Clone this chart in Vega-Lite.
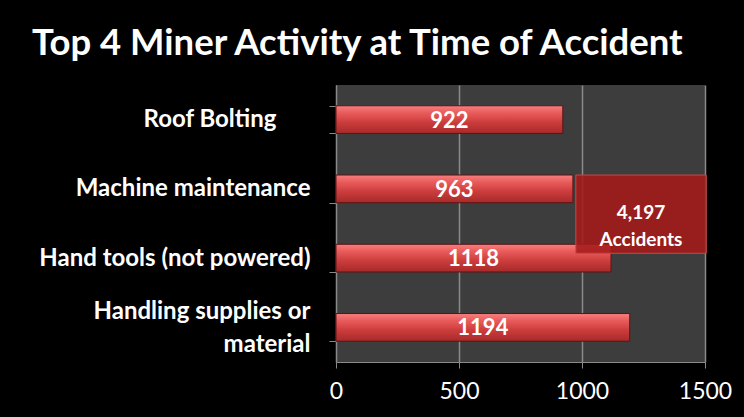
{
  "$schema": "https://vega.github.io/schema/vega-lite/v6.json",
  "width": 369,
  "height": 277,
  "autosize": {"type": "none"},
  "padding": {"left": 336, "top": 85, "right": 39, "bottom": 55},
  "background": "#000000",
  "title": {
    "text": "Top 4 Miner Activity at Time of Accident",
    "font": "Lato",
    "fontSize": 36.5,
    "fontWeight": "bold",
    "color": "#ffffff",
    "anchor": "start",
    "frame": "group",
    "dx": -304,
    "offset": 11
  },
  "config": {
    "view": {"fill": "#3d3d3d", "stroke": null}
  },
  "data": {
    "values": [
      {"activity": "Roof Bolting", "accidents": 922},
      {"activity": "Machine maintenance", "accidents": 963},
      {"activity": "Hand tools (not powered)", "accidents": 1118},
      {"activity": "Handling supplies or material", "accidents": 1194}
    ]
  },
  "layer": [
    {
      "mark": {
        "type": "bar",
        "color": {
          "gradient": "linear",
          "x1": 0, "y1": 0, "x2": 0, "y2": 1,
          "stops": [
            {"offset": 0, "color": "#f77f7f"},
            {"offset": 0.25, "color": "#ea5c5c"},
            {"offset": 0.6, "color": "#cc3c3c"},
            {"offset": 1, "color": "#a62a2a"}
          ]
        },
        "stroke": "#5c1414",
        "strokeWidth": 1
      },
      "encoding": {
        "y": {
          "field": "activity",
          "type": "nominal",
          "sort": null,
          "scale": {"paddingInner": 0.6, "paddingOuter": 0.3},
          "axis": {
            "title": null,
            "tickBand": "extent",
            "labelFont": "Lato",
            "labelFontWeight": "bold",
            "labelFontSize": 24,
            "labelColor": "#ffffff",
            "labelPadding": {"condition": {"test": "datum.value == 'Roof Bolting'", "value": 53}, "value": 19},
            "labelOffset": {"condition": {"test": "datum.value == 'Handling supplies or material'", "value": -16}, "value": 0},
            "labelLimit": 400,
            "labelExpr": "datum.value == 'Handling supplies or material' ? ['Handling supplies or', 'material'] : datum.value",
            "labelLineHeight": 33,
            "domainColor": "#8a8a8a",
            "tickColor": "#8a8a8a",
            "tickSize": 7,
            "grid": false
          }
        },
        "x": {
          "field": "accidents",
          "type": "quantitative",
          "scale": {"domain": [0, 1500]},
          "axis": {
            "title": null,
            "values": [0, 500, 1000, 1500],
            "format": "d",
            "grid": true,
            "gridColor": "#8a8a8a",
            "gridWidth": 1.5,
            "domainColor": "#8a8a8a",
            "tickColor": "#8a8a8a",
            "tickSize": 6,
            "labelFont": "Lato",
            "labelFontSize": 23,
            "labelColor": "#ffffff",
            "labelPadding": 12,
            "labelFlush": false
          }
        }
      }
    },
    {
      "mark": {
        "type": "text",
        "font": "Lato",
        "fontWeight": "bold",
        "fontSize": 22,
        "color": "#ffffff",
        "align": "center",
        "baseline": "middle",
        "dy": 1
      },
      "encoding": {
        "y": {"field": "activity", "type": "nominal", "sort": null, "scale": {"paddingInner": 0.6, "paddingOuter": 0.3}, "axis": null},
        "x": {"field": "accidents", "type": "quantitative", "scale": {"domain": [0, 3000]}, "axis": null},
        "text": {"field": "accidents", "type": "quantitative", "format": "d"}
      }
    },
    {
      "data": {"values": [{"note": "4,197\nAccidents"}]},
      "mark": {
        "type": "rect",
        "fill": "#a51a1a",
        "fillOpacity": 0.88,
        "stroke": "#c84a4a",
        "strokeWidth": 1
      },
      "encoding": {
        "x": {"datum": 975, "type": "quantitative", "scale": {"domain": [0, 1500]}, "axis": null},
        "x2": {"datum": 1505},
        "y": {"datum": 2.7, "type": "quantitative", "scale": {"domain": [0, 4]}, "axis": null},
        "y2": {"datum": 1.57}
      }
    },
    {
      "data": {"values": [{"note": "4,197\nAccidents"}]},
      "mark": {
        "type": "text",
        "font": "Lato",
        "fontWeight": "bold",
        "fontSize": 19,
        "color": "#ffffff",
        "align": "center",
        "baseline": "middle",
        "lineBreak": "\n",
        "lineHeight": 27
      },
      "encoding": {
        "x": {"datum": 1240, "type": "quantitative", "scale": {"domain": [0, 1500]}, "axis": null},
        "y": {"datum": 2.15, "type": "quantitative", "scale": {"domain": [0, 4]}, "axis": null},
        "text": {"field": "note", "type": "nominal"}
      }
    }
  ],
  "resolve": {"scale": {"x": "independent", "y": "independent"}}
}
